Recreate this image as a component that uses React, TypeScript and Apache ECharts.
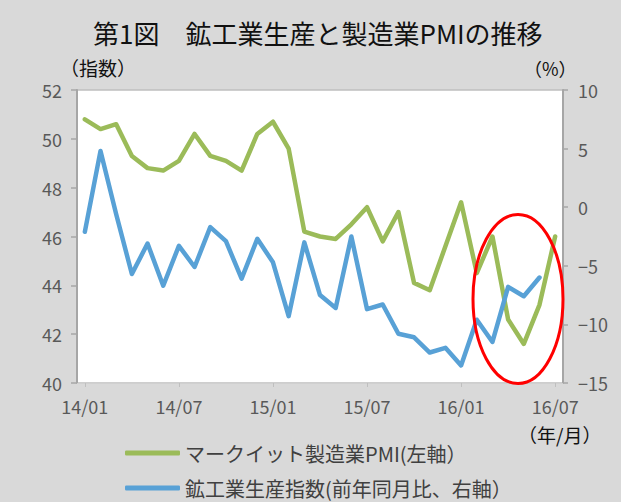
import React, { useEffect, useRef } from "react";
import * as echarts from "echarts";

const months: string[] = [
  "14/01","14/02","14/03","14/04","14/05","14/06","14/07","14/08","14/09","14/10","14/11","14/12",
  "15/01","15/02","15/03","15/04","15/05","15/06","15/07","15/08","15/09","15/10","15/11","15/12",
  "16/01","16/02","16/03","16/04","16/05","16/06","16/07",
];

const pmi: number[] = [
  50.8, 50.4, 50.6, 49.3, 48.8, 48.7, 49.1, 50.2, 49.3, 49.1, 48.7, 50.2,
  50.7, 49.6, 46.2, 46.0, 45.9, 46.5, 47.2, 45.8, 47.0, 44.1, 43.8, 45.6,
  47.4, 44.5, 46.0, 42.6, 41.6, 43.2, 46.0,
];

const ipYoY: number[] = [
  -2.1, 4.8, -0.6, -5.7, -3.1, -6.7, -3.3, -5.1, -1.7, -2.9, -6.1, -2.7,
  -4.7, -9.3, -3.0, -7.5, -8.6, -2.5, -8.7, -8.3, -10.8, -11.1, -12.4, -12.0,
  -13.5, -9.6, -11.5, -6.8, -7.6, -6.0,
];

const titleText = "第1図　鉱工業生産と製造業PMIの推移";
const pmiName = "マークイット製造業PMI(左軸）";
const ipName = "鉱工業生産指数(前年同月比、右軸）";

const FONT = "'Noto Sans CJK JP', 'Noto Sans', sans-serif";

export default function App() {
  const ref = useRef<HTMLDivElement>(null);

  useEffect(() => {
    if (!ref.current) return;
    const chart = echarts.init(ref.current, undefined, { renderer: "svg" });
    const axisColor = "#a6a6a6";
    const labelColor = "#595959";
    chart.setOption({
      animation: false,
      backgroundColor: "#d9d9d9",
      textStyle: { fontFamily: FONT },
      title: {
        text: titleText,
        left: 88,
        top: 14,
        textStyle: { fontSize: 26, fontWeight: "normal", color: "#111", fontFamily: FONT },
      },
      legend: {
        orient: "vertical",
        left: 125,
        top: 443,
        padding: 0,
        itemWidth: 55,
        itemHeight: 5,
        itemGap: 15,
        icon: "roundRect",
        textStyle: { fontSize: 20, color: "#404040", fontFamily: FONT },
        data: [pmiName, ipName],
      },
      grid: {
        left: 77,
        right: 58,
        top: 90,
        bottom: 119,
        show: true,
        backgroundColor: "#ffffff",
        borderColor: "#bfbfbf",
        borderWidth: 1.5,
      },
      xAxis: {
        type: "category",
        data: months,
        boundaryGap: true,
        axisLine: { show: true, onZero: false, lineStyle: { color: "#d0d0d0", width: 1 } },
        axisTick: { show: true, alignWithLabel: true, interval: 5, length: 4, lineStyle: { color: "#bfbfbf" } },
        axisLabel: { interval: 5, margin: 14, fontSize: 18, color: labelColor, fontFamily: FONT },
        splitLine: { show: false },
      },
      yAxis: [
        {
          type: "value",
          min: 40,
          max: 52,
          interval: 2,
          position: "left",
          axisLine: { show: true, lineStyle: { color: axisColor, width: 2 } },
          axisTick: { show: true, length: 6, lineStyle: { color: axisColor, width: 1.5 } },
          axisLabel: { margin: 15, fontSize: 18, color: labelColor, fontFamily: FONT },
          splitLine: { show: false },
        },
        {
          type: "value",
          min: -15,
          max: 10,
          interval: 5,
          position: "right",
          axisLine: { show: true, lineStyle: { color: axisColor, width: 2 } },
          axisTick: { show: true, length: 5, lineStyle: { color: axisColor, width: 1.5 } },
          axisLabel: {
            margin: 15,
            fontSize: 18,
            color: labelColor,
            fontFamily: FONT,
            formatter: (v: number) => String(v).replace("-", "\u2212"),
          },
          splitLine: { show: false },
        },
      ],
      series: [
        {
          name: pmiName,
          type: "line",
          yAxisIndex: 0,
          data: pmi,
          symbol: "none",
          lineStyle: { color: "#9bbb59", width: 4.5, cap: "round", join: "round" },
          itemStyle: { color: "#9bbb59" },
          z: 2,
        },
        {
          name: ipName,
          type: "line",
          yAxisIndex: 1,
          data: ipYoY,
          symbol: "none",
          lineStyle: { color: "#58a1d6", width: 4.5, cap: "round", join: "round" },
          itemStyle: { color: "#58a1d6" },
          z: 3,
        },
      ],
      graphic: [
        {
          type: "text",
          left: 60,
          top: 58,
          style: { text: "（指数）", fontSize: 19, fill: "#111", fontFamily: FONT },
        },
        {
          type: "text",
          left: 524,
          top: 59,
          style: { text: "（%）", fontSize: 18, fill: "#111", fontFamily: FONT },
        },
        {
          type: "text",
          left: 518,
          top: 425,
          style: { text: "（年/月）", fontSize: 19, fill: "#111", fontFamily: FONT },
        },
        {
          type: "ellipse",
          shape: { cx: 518, cy: 299, rx: 45, ry: 84.5 },
          style: { fill: "none", stroke: "#ff0000", lineWidth: 3 },
          z: 100,
        },
      ],
    });
    return () => chart.dispose();
  }, []);

  return (
    <div
      ref={ref}
      style={{ position: "absolute", left: 0, top: 0, width: 621, height: 502 }}
    />
  );
}
